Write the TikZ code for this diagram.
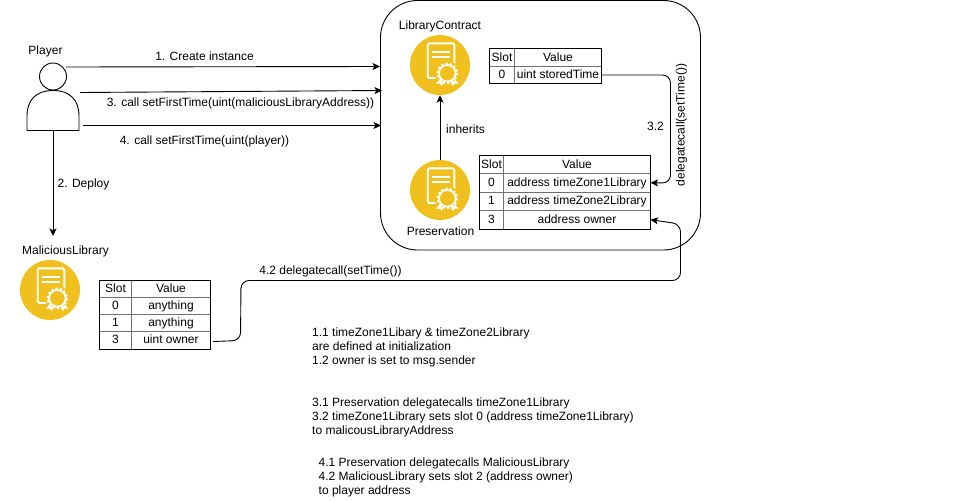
\documentclass[tikz,border=0pt]{standalone}
\usepackage{fontspec}
\setmainfont{Liberation Sans}
\usetikzlibrary{arrows.meta}
\definecolor{iconyellow}{HTML}{F0C11E}
\definecolor{cellgray}{HTML}{707070}
\tikzset{
  lbl/.style={inner sep=0, font=\fontsize{12}{14}\selectfont},
  note/.style={lbl, align=left, anchor=north west},
  cell/.style={draw=cellgray, line width=.8pt, anchor=north west, inner sep=0, outer sep=0, text height=9pt, text depth=2pt, font=\fontsize{12}{14}\selectfont},
  lowcell/.style={cell, text height=10pt},
  outer/.style={draw=black, line width=.9pt},
  iconbase/.style={circle, fill=iconyellow, minimum size=60, inner sep=0},
  flow/.style={draw=black, line width=.9pt, -{Stealth[length=7.5pt,width=7pt,inset=1.8pt]}},
}
\newcommand{\contracticon}[3]{
\node[iconbase] (#1) at (#2,#3){};
\begin{scope}[shift={(#2,#3)}]
\draw[white, line width=1.9pt, rounded corners=1.5] (5,13) -- (-12.3,13) -- (-12.3,-21.7) -- (14.3,-21.7) -- (14.3,0);
\draw[white, line width=1.7pt] (-7.7,-13.3) -- (10,-13.3);
\draw[white, line width=1.7pt] (-7.7,-8.3) -- (10,-8.3);
\fill[iconyellow] (7.3,8.3) circle (12.5);
\fill[white] (1,13) -- (-4,18.5) -- (0,18.5) -- (1.5,21) -- (5,16) -- cycle;
\fill[white] (13.5,13) -- (18.5,18.5) -- (14.5,18.5) -- (13,21) -- (9.5,16) -- cycle;
\fill[iconyellow] (7.3,8.3) circle (10);
\draw[white, line width=1.8pt, dash pattern=on 2.2pt off 2.2pt] (7.3,8.3) circle (9.8);
\draw[white, line width=1.7pt] (7.3,8.3) circle (8.3);
\end{scope}
}
\begin{document}
\begin{tikzpicture}[x=1pt,y=-1pt]
\useasboundingbox (0,0) rectangle (963,501);

% contract box
\node[draw=black, line width=.9pt, rounded corners=37, minimum width=320, minimum height=249.5, inner sep=0, outer sep=0] (contractbox) at (540.5,125.25){};

% player
\node[circle, draw=black, line width=.9pt, minimum size=27, inner sep=0] (playerhead) at (53,76.5){};
\draw[black, line width=.9pt] (27,130.5) -- (27,116) .. controls (27,100) and (36,90.5) .. (53,90.5) .. controls (70,90.5) and (79,100) .. (79,116) -- (79,130.5) -- cycle;
\node[lbl] (playerlbl) at (45.5,51){Player};
\coordinate (playerfoot) at (53,130.5);
\coordinate (maliciousin) at (53,236);

% icons
\contracticon{libraryicon}{440}{65}
\contracticon{preservationicon}{440}{190}
\contracticon{maliciousicon}{50}{290}
\node[lbl] (librarylbl) at (440,26){LibraryContract};
\node[lbl] (preservationlbl) at (440.5,231){Preservation};
\node[lbl] (maliciouslbl) at (65.5,251){MaliciousLibrary};

% storage of LibraryContract
\node[cell, minimum width=25, minimum height=18] (libslot) at (489.5,48.5){Slot};
\node[cell, minimum width=87, minimum height=18] (libvalue) at (514.5,48.5){Value};
\node[cell, minimum width=25, minimum height=17] (libslot0) at (489.5,66.5){0};
\node[cell, minimum width=87, minimum height=17] (libvalue0) at (514.5,66.5){uint storedTime};
\draw[outer] (libslot.north west) rectangle (libvalue0.south east);

% storage of Preservation
\node[cell, minimum width=24, minimum height=18] (presslot) at (479.5,155.5){Slot};
\node[cell, minimum width=147, minimum height=18] (presvalue) at (503.5,155.5){Value};
\node[cell, minimum width=24, minimum height=18.5] (presslot0) at (479.5,173.5){0};
\node[cell, minimum width=147, minimum height=18.5] (presvalue0) at (503.5,173.5){address timeZone1Library};
\node[cell, minimum width=24, minimum height=18.5] (presslot1) at (479.5,192){1};
\node[cell, minimum width=147, minimum height=18.5] (presvalue1) at (503.5,192){address timeZone2Library};
\node[lowcell, minimum width=24, minimum height=18.5] (presslot3) at (479.5,210.5){3};
\node[lowcell, minimum width=147, minimum height=18.5] (presvalue3) at (503.5,210.5){address owner};
\draw[outer] (presslot.north west) rectangle (presvalue3.south east);

% storage of MaliciousLibrary
\node[cell, minimum width=32, minimum height=17] (malslot) at (99.5,280.5){Slot};
\node[cell, minimum width=79, minimum height=17] (malvalue) at (131.5,280.5){Value};
\node[cell, minimum width=32, minimum height=17] (malslot0) at (99.5,297.5){0};
\node[cell, minimum width=79, minimum height=17] (malvalue0) at (131.5,297.5){anything};
\node[cell, minimum width=32, minimum height=17] (malslot1) at (99.5,314.5){1};
\node[cell, minimum width=79, minimum height=17] (malvalue1) at (131.5,314.5){anything};
\node[cell, minimum width=32, minimum height=17.5] (malslot3) at (99.5,331.5){3};
\node[cell, minimum width=79, minimum height=17.5] (malvalue3) at (131.5,331.5){uint owner};
\draw[outer] (malslot.north west) rectangle (malvalue3.south east);

% calls from the player
\coordinate (call1from) at (66,67);
\coordinate (call1to) at (380,66.5);
\coordinate (call3from) at (80,92.5);
\coordinate (call3to) at (382,90.5);
\coordinate (call4from) at (83,125.5);
\coordinate (call4to) at (381,125.5);
\draw[flow] (call1from) -- (call1to);
\draw[flow] (call3from) -- (call3to);
\draw[flow] (call4from) -- (call4to);
\draw[flow] (playerfoot) -- (maliciousin);
\node[lbl] (call1lbl) at (204.5,56){1. Create instance};
\node[lbl] (call3lbl) at (240.5,103){3. call setFirstTime(uint(maliciousLibraryAddress))};
\node[lbl] (call4lbl) at (204.5,141){4. call setFirstTime(uint(player))};
\node[lbl] (deploylbl) at (83.5,184){2. Deploy};

% inside the box
\draw[flow] (preservationicon) -- (libraryicon);
\node[lbl] (inheritslbl) at (465.5,129){inherits};
\draw[flow, rounded corners=8] (libvalue0.east) -- (670.5,75) -- (670.5,183) -- (presvalue0.east);
\node[lbl] (step32lbl) at (655.5,126){3.2};
\node[lbl, rotate=90] (delegatelbl) at (681.5,125){delegatecall(setTime())};

% from the malicious library
\coordinate (ownerfrom) at (213,341.5);
\draw[flow, rounded corners=8] (ownerfrom) -- (240.5,340.5) -- (241,280.5) -- (680.5,280.5) -- (680.5,224) -- (presvalue3.east);
\node[lbl] (delegate42lbl) at (330.5,271){4.2 delegatecall(setTime())};

% notes
\node[note] (note1) at (312,328){1.1 timeZone1Libary \& timeZone2Library\\are defined at initialization\\1.2 owner is set to msg.sender};
\node[note] (note3) at (312,398){3.1 Preservation delegatecalls timeZone1Library\\3.2 timeZone1Library sets slot 0 (address timeZone1Library)\\to malicousLibraryAddress};
\node[note] (note4) at (318.5,458){4.1 Preservation delegatecalls MaliciousLibrary\\4.2 MaliciousLibrary sets slot 2 (address owner)\\to player address};

\end{tikzpicture}
\end{document}
